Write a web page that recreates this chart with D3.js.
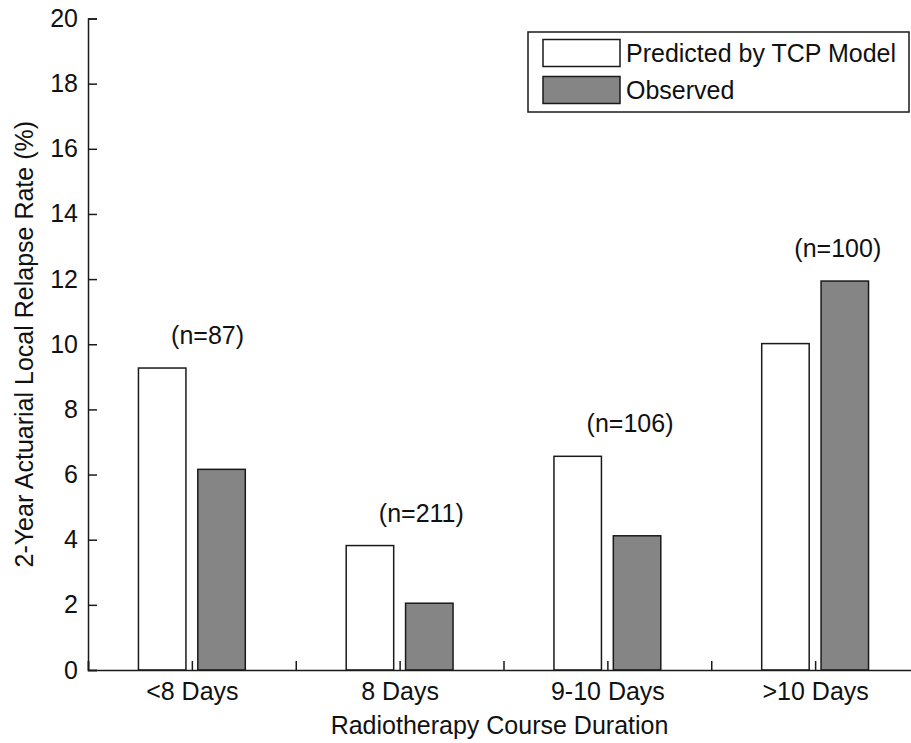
<!DOCTYPE html>
<html>
<head>
<meta charset="utf-8">
<script src="https://cdn.jsdelivr.net/npm/d3@7"></script>
<style>
  html, body { margin: 0; padding: 0; background: #fff; }
  svg text { font-family: "Liberation Sans", Arial, sans-serif; fill: #111; }
</style>
</head>
<body>
<svg id="chart" width="911" height="743"></svg>
<script>
// ---- data ----
const categories = ["<8 Days", "8 Days", "9-10 Days", ">10 Days"];
const predicted = [9.27, 3.82, 6.56, 10.02];
const observed = [6.16, 2.05, 4.12, 11.94];
const sampleLabels = ["(n=87)", "(n=211)", "(n=106)", "(n=100)"];
const seriesNames = ["Predicted by TCP Model", "Observed"];
const yTicks = [0, 2, 4, 6, 8, 10, 12, 14, 16, 18, 20];
const xTicks = [0.5, 1, 1.5, 2, 2.5, 3, 3.5, 4, 4.5];
const yLabel = "2-Year Actuarial Local Relapse Rate (%)";
const xLabel = "Radiotherapy Course Duration";

// ---- layout ----
const svg = d3.select("#chart");
const x = d3.scaleLinear().domain([0.5, 4.5]).range([88, 919]);
const y = d3.scaleLinear().domain([0, 20]).range([670, 18.5]);
const colors = ["#ffffff", "#858585"];
const groupWidth = 2 / 3.5;
const barW = groupWidth / 2 * 0.8;
const offsets = [-groupWidth / 4, groupWidth / 4];
const series = [predicted, observed];
const stroke = "#1a1a1a";
const fs = 25;

// bars
series.forEach((vals, s) => {
  svg.append("g").selectAll("rect").data(vals).join("rect")
    .attr("x", (d, i) => x(i + 1 + offsets[s] - barW / 2))
    .attr("width", x(barW) - x(0))
    .attr("y", d => y(d))
    .attr("height", d => y(0) - y(d))
    .attr("fill", colors[s])
    .attr("stroke", stroke)
    .attr("stroke-width", 1.5);
});

// axes
const yAxis = d3.axisLeft(y).tickValues(yTicks).tickSize(-9).tickPadding(10).tickFormat(d3.format("d"));
const gy = svg.append("g").attr("transform", `translate(${x(0.5)},0)`).call(yAxis);
gy.select(".domain").attr("stroke", stroke).attr("stroke-width", 1.5);
gy.selectAll(".tick line").attr("stroke", stroke).attr("stroke-width", 1.5);
gy.selectAll(".tick text").attr("font-size", fs).attr("font-family", "Liberation Sans, Arial, sans-serif").attr("fill", "#111");

const xAxis = d3.axisBottom(x).tickValues(xTicks).tickSize(-9).tickPadding(12)
  .tickFormat(d => Number.isInteger(d) ? categories[d - 1] : "");
const gx = svg.append("g").attr("transform", `translate(0,${y(0)})`).call(xAxis);
gx.select(".domain").attr("stroke", stroke).attr("stroke-width", 1.5);
gx.selectAll(".tick line").attr("stroke", stroke).attr("stroke-width", 1.5);
gx.selectAll(".tick text").attr("font-size", fs).attr("font-family", "Liberation Sans, Arial, sans-serif").attr("fill", "#111");

// sample-size annotations
svg.append("g").selectAll("text").data(sampleLabels).join("text")
  .attr("x", (d, i) => x(i + 1 - 0.1))
  .attr("y", (d, i) => y(Math.max(predicted[i], observed[i]) + 1))
  .attr("dy", "0.35em")
  .attr("font-size", fs)
  .text(d => d);

// axis titles
svg.append("text")
  .attr("transform", `translate(33,${(y(0) + y(20)) / 2}) rotate(-90)`)
  .attr("text-anchor", "middle")
  .attr("font-size", fs)
  .text(yLabel);
svg.append("text")
  .attr("x", (x(0.5) + x(4.5)) / 2 - 4)
  .attr("y", 734)
  .attr("text-anchor", "middle")
  .attr("font-size", fs)
  .text(xLabel);

// legend
const lg = svg.append("g");
lg.append("rect").attr("x", 528).attr("y", 32).attr("width", 381).attr("height", 80)
  .attr("fill", "#fff").attr("stroke", stroke).attr("stroke-width", 1.5);
seriesNames.forEach((name, s) => {
  const top = 39.5 + s * 37;
  lg.append("rect").attr("x", 543).attr("y", top).attr("width", 77).attr("height", 27)
    .attr("fill", colors[s]).attr("stroke", stroke).attr("stroke-width", 1.5);
  lg.append("text").attr("x", 626).attr("y", top + 22).attr("font-size", fs).text(name);
});
</script>
</body>
</html>
